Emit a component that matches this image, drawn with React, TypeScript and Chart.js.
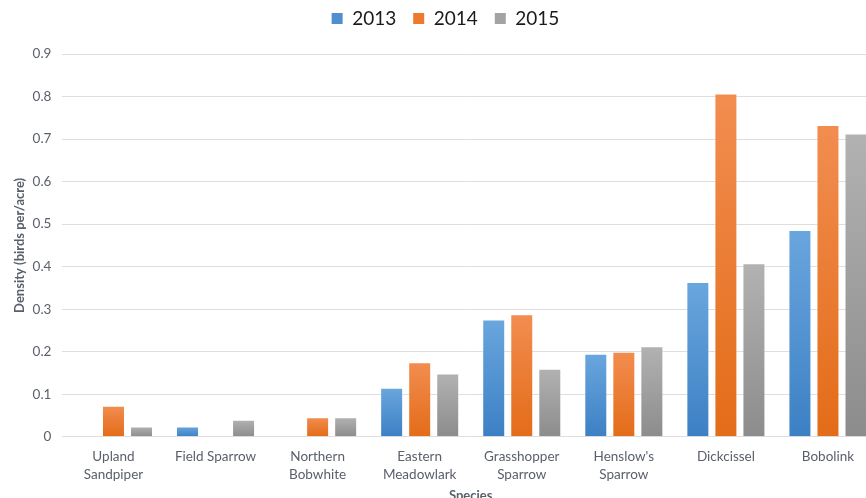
import React, { useEffect, useRef } from "react";
import { Chart, registerables } from "chart.js";

Chart.register(...registerables);

const categories: (string | string[])[] = [
  ["Upland", "Sandpiper"],
  "Field Sparrow",
  ["Northern", "Bobwhite"],
  ["Eastern", "Meadowlark"],
  ["Grasshopper", "Sparrow"],
  ["Henslow's", "Sparrow"],
  "Dickcissel",
  "Bobolink",
];
const seriesNames = ["2013", "2014", "2015"];
const values2013 = [0, 0.024, 0, 0.115, 0.276, 0.195, 0.364, 0.486];
const values2014 = [0.073, 0, 0.046, 0.175, 0.288, 0.2, 0.807, 0.733];
const values2015 = [0.024, 0.04, 0.046, 0.149, 0.16, 0.213, 0.408, 0.713];

const solid = ["#4f8fd0", "#ee7a30", "#a3a3a3"];
const tops = ["#6aa6de", "#f28d50", "#b2b2b2"];
const bottoms = ["#3c80c4", "#e36c18", "#8c8c8c"];

const fontFamily = "Lato, 'Open Sans', sans-serif";
const textColor = "#595f6b";

function gradientFor(i: number) {
  return (context: any) => {
    const chart = context.chart;
    const y = chart.scales?.y;
    if (!chart.chartArea || !y || context.type !== "data") return solid[i];
    const v = context.raw as number;
    const top = y.getPixelForValue(v);
    const bottom = y.getPixelForValue(0);
    if (!isFinite(top) || Math.abs(bottom - top) < 1) return solid[i];
    const g = chart.ctx.createLinearGradient(0, top, 0, bottom);
    g.addColorStop(0, tops[i]);
    g.addColorStop(1, bottoms[i]);
    return g;
  };
}

const legendMargin = {
  id: "legendMargin",
  beforeInit(chart: any) {
    const fit = chart.legend.fit;
    chart.legend.fit = function () {
      fit.bind(chart.legend)();
      this.height += 16;
    };
  },
};

export default function App() {
  const ref = useRef<HTMLCanvasElement>(null);
  useEffect(() => {
    if (!ref.current) return;
    const all = [values2013, values2014, values2015];
    const chart = new Chart(ref.current, {
      type: "bar",
      data: {
        labels: categories,
        datasets: all.map((d, i) => ({
          label: seriesNames[i],
          data: d,
          backgroundColor: gradientFor(i),
          borderColor: "rgba(255,255,255,0.35)",
          borderWidth: 1,
          categoryPercentage: 0.824,
          barPercentage: 0.82,
        })),
      },
      plugins: [legendMargin],
      options: {
        animation: false,
        responsive: false,
        maintainAspectRatio: false,
        layout: { padding: { left: 12, right: 1, top: -8, bottom: 0 } },
        plugins: {
          legend: {
            position: "top",
            labels: {
              boxWidth: 11,
              boxHeight: 11,
              padding: 17,
              color: "#1a1a1a",
              font: { family: fontFamily, size: 19 },
              generateLabels: () =>
                seriesNames.map((n, i) => ({
                  text: n,
                  fillStyle: solid[i],
                  strokeStyle: solid[i],
                  lineWidth: 0,
                  hidden: false,
                  datasetIndex: i,
                  fontColor: "#1a1a1a",
                })),
            },
          },
          tooltip: { enabled: false },
        },
        scales: {
          x: {
            grid: { display: false },
            border: { display: false },
            ticks: {
              color: textColor,
              font: { family: fontFamily, size: 13.5, lineHeight: 1.32 },
              maxRotation: 0,
              autoSkip: false,
              padding: 3,
            },
            title: {
              display: true,
              text: "Species",
              color: textColor,
              font: { family: fontFamily, size: 13, weight: "bold" },
              padding: { top: 2, bottom: 0 },
            },
          },
          y: {
            min: 0,
            max: 0.9,
            ticks: {
              stepSize: 0.1,
              color: textColor,
              font: { family: fontFamily, size: 13.5 },
              padding: 11,
              callback: (v: any) => (v === 0 ? "0" : Number(v).toFixed(1)),
            },
            grid: { color: "#dedede", lineWidth: 1, drawTicks: false },
            border: { display: false },
            title: {
              display: true,
              text: "Density (birds per/acre)",
              color: textColor,
              font: { family: fontFamily, size: 13, weight: "bold" },
              padding: { top: 0, bottom: -6 },
            },
          },
        },
      },
    });
    return () => chart.destroy();
  }, []);
  return (
    <div
      style={{
        position: "fixed",
        left: 0,
        top: 0,
        width: 866,
        height: 498,
        overflow: "hidden",
        background: "#fff",
      }}
    >
      <canvas ref={ref} width={880} height={504} style={{ display: "block" }} />
    </div>
  );
}
